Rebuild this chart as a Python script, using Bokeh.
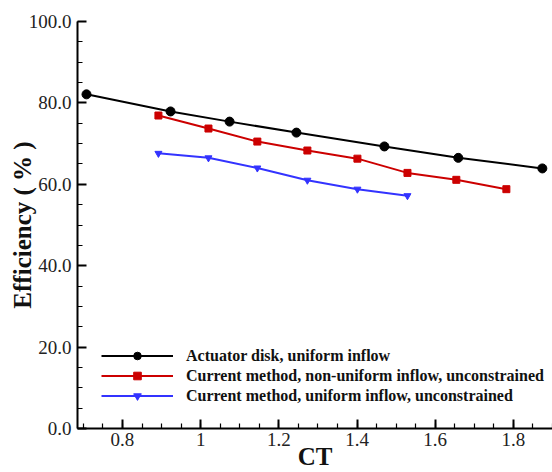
from bokeh.plotting import figure
from bokeh.models import FixedTicker, Range1d, Legend, LegendItem
from bokeh.embed import file_html
from bokeh.resources import INLINE

# Data
ad_ct = [0.708, 0.923, 1.074, 1.245, 1.470, 1.659, 1.874]
ad_eff = [82.1, 77.9, 75.4, 72.7, 69.3, 66.5, 63.9]

nu_ct = [0.892, 1.020, 1.145, 1.273, 1.401, 1.529, 1.654, 1.782]
nu_eff = [76.9, 73.7, 70.5, 68.3, 66.3, 62.8, 61.1, 58.8]

u_ct = [0.892, 1.020, 1.145, 1.273, 1.401, 1.529]
u_eff = [67.6, 66.5, 64.0, 61.0, 58.8, 57.2]

x_ticks = [0.8, 1.0, 1.2, 1.4, 1.6, 1.8]
x_tick_labels = ["0.8", "1", "1.2", "1.4", "1.6", "1.8"]
y_ticks = [0, 20, 40, 60, 80, 100]
y_tick_labels = ["0.0", "20.0", "40.0", "60.0", "80.0", "100.0"]

labels = ["Actuator disk, uniform inflow",
          "Current method, non-uniform inflow, unconstrained",
          "Current method, uniform inflow, unconstrained"]

FONT = "Liberation Serif"

p = figure(width=552, height=472, output_backend="svg", toolbar_location=None,
           x_range=Range1d(0.685, 1.90), y_range=Range1d(0, 100),
           min_border_left=77, min_border_top=21, min_border_right=0, min_border_bottom=44)
p.outline_line_color = None
p.xgrid.visible = False
p.ygrid.visible = False

p.xaxis.ticker = FixedTicker(ticks=x_ticks,
                             minor_ticks=[round(0.70 + 0.05 * i, 2) for i in range(25)])
p.xaxis.major_label_overrides = {t: l for t, l in zip(x_ticks, x_tick_labels)}
p.yaxis.ticker = FixedTicker(ticks=y_ticks, minor_ticks=list(range(0, 101, 5)))
p.yaxis.major_label_overrides = {t: l for t, l in zip(y_ticks, y_tick_labels)}

for ax in (p.xaxis[0], p.yaxis[0]):
    ax.axis_line_width = 2
    ax.axis_line_color = "black"
    ax.major_tick_in = 9
    ax.major_tick_out = 0
    ax.minor_tick_in = 5
    ax.minor_tick_out = 0
    ax.major_tick_line_width = 2
    ax.minor_tick_line_width = 1.2
    ax.major_label_text_font = FONT
    ax.major_label_text_font_size = "19px"
    ax.major_label_text_color = "#222222"
    ax.axis_label_text_font = FONT
    ax.axis_label_text_font_style = "bold"
    ax.axis_label_text_font_size = "25px"
    ax.axis_label_text_color = "#111111"

p.xaxis.axis_label = "CT"
p.yaxis.axis_label = "Efficiency ( % )"
p.xaxis.major_label_standoff = 4
p.yaxis.major_label_standoff = 6
p.xaxis.axis_label_standoff = -6
p.yaxis.axis_label_standoff = -10

l1 = p.line(ad_ct, ad_eff, line_color="black", line_width=2)
m1 = p.scatter(ad_ct, ad_eff, marker="circle", size=9, fill_color="black", line_color="black")
l2 = p.line(nu_ct, nu_eff, line_color="#cc0000", line_width=2)
m2 = p.scatter(nu_ct, nu_eff, marker="square", size=7, fill_color="#cc0000", line_color="#cc0000")
l3 = p.line(u_ct, u_eff, line_color="#3333ff", line_width=2)
m3 = p.scatter(u_ct, u_eff, marker="inverted_triangle", size=7, fill_color="#3333ff", line_color="#3333ff")

legend = Legend(items=[LegendItem(label=labels[0], renderers=[l1, m1]),
                       LegendItem(label=labels[1], renderers=[l2, m2]),
                       LegendItem(label=labels[2], renderers=[l3, m3])],
                location=(24, 23))
legend.border_line_color = None
legend.background_fill_alpha = 0
legend.padding = 0
legend.margin = 0
legend.spacing = 1
legend.glyph_width = 72
legend.glyph_height = 19
legend.label_height = 19
legend.label_standoff = 13
legend.label_text_font = FONT
legend.label_text_font_style = "bold"
legend.label_text_font_size = "16px"
legend.label_text_color = "#111111"
p.add_layout(legend, "center")

open("out.html", "w").write(file_html(p, INLINE))
